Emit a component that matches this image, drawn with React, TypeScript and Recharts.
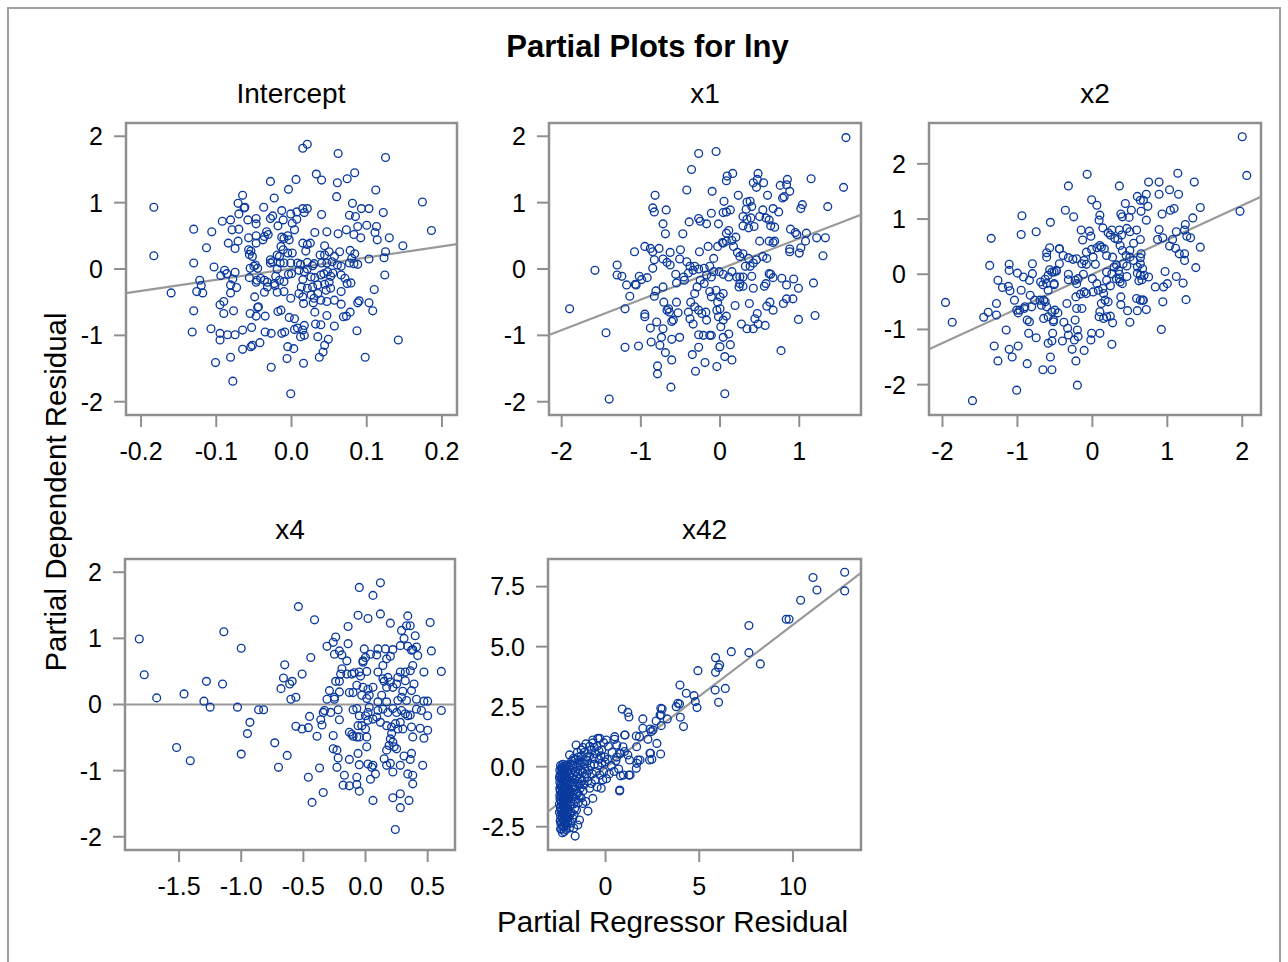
import React from 'react';
import { ScatterChart, Scatter, XAxis, YAxis, ReferenceLine, ReferenceArea } from 'recharts';

// ---------- DATA ----------
const chartTitle = 'Partial Plots for lny';
const panelTitles = ['Intercept', 'x1', 'x2', 'x4', 'x42'];
const xAxisLabel = 'Partial Regressor Residual';
const yAxisLabel = 'Partial Dependent Residual';

const interceptPts: [number, number][] = [
  [0.021,1.88],[0.015,1.82],[0.062,1.74],[0.125,1.68],[0.033,1.43],[0.040,1.34],[0.084,1.45],[0.074,1.36],[0.061,1.30],[0.006,1.35],
  [-0.028,1.32],[-0.004,1.20],[0.112,1.19],[0.060,1.09],[-0.023,1.07],[-0.065,1.11],[-0.071,0.99],[-0.062,0.93],[-0.063,0.92],[0.174,1.01],
  [-0.183,0.93],[0.081,0.99],[0.093,0.91],[0.103,0.91],[0.122,0.85],[0.077,0.81],[0.085,0.79],[0.040,0.82],[-0.037,0.93],[-0.013,0.88],
  [-0.001,0.83],[0.007,0.86],[0.015,0.91],[0.021,0.91],[0.017,0.85],[0.007,0.75],[-0.025,0.80],[-0.028,0.76],[-0.011,0.74],[-0.047,0.76],
  [-0.047,0.68],[-0.058,0.74],[-0.070,0.83],[-0.081,0.74],[-0.092,0.72],[-0.018,0.65],[0.001,0.69],[0.004,0.59],[-0.079,0.59],[-0.070,0.60],
  [-0.130,0.60],[-0.106,0.56],[0.186,0.58],[0.113,0.64],[0.088,0.64],[0.100,0.66],[0.073,0.59],[0.062,0.53],[0.047,0.56],[0.031,0.55],
  [0.083,0.52],[0.092,0.47],[0.111,0.55],[0.114,0.44],[0.130,0.47],[0.148,0.35],[-0.033,0.56],[-0.031,0.52],[-0.036,0.49],[-0.047,0.50],
  [-0.038,0.44],[-0.047,0.39],[-0.057,0.47],[-0.057,0.29],[-0.054,0.27],[-0.071,0.42],[-0.084,0.39],[-0.075,0.31],[-0.113,0.32],[-0.013,0.48],
  [-0.010,0.46],[-0.005,0.50],[-0.003,0.44],[-0.014,0.34],[-0.011,0.29],[-0.019,0.21],[-0.016,0.19],[-0.005,0.24],[0.001,0.24],[0.015,0.39],
  [0.021,0.37],[0.025,0.39],[0.019,0.27],[0.044,0.35],[0.050,0.26],[0.044,0.21],[0.038,0.21],[0.057,0.19],[0.064,0.26],[0.078,0.28],
  [0.080,0.16],[0.084,0.23],[0.077,0.09],[0.088,0.07],[0.083,0.08],[0.103,0.15],[0.125,0.26],[0.123,0.17],[0.124,-0.09],[0.110,-0.31],
  [0.090,-0.48],[0.088,-0.51],[0.103,-0.51],[0.108,-0.63],[0.087,-0.93],[0.098,-1.33],[0.142,-1.07],[-0.052,0.19],[-0.056,0.22],[-0.048,0.06],
  [-0.050,0.04],[-0.045,0.01],[-0.028,0.14],[-0.025,0.11],[-0.028,0.09],[-0.019,0.0],[-0.015,0.09],[-0.010,0.09],[-0.001,0.09],[0.008,0.09],
  [0.012,0.07],[0.021,0.10],[0.028,0.05],[0.030,0.08],[0.040,0.09],[0.047,0.09],[0.054,0.11],[0.061,0.06],[0.066,0.04],[-0.103,0.03],
  [-0.089,-0.02],[-0.086,-0.07],[-0.094,-0.10],[-0.075,-0.05],[-0.055,0.01],[-0.130,0.09],[-0.183,0.20],[-0.160,-0.36],[-0.122,-0.17],[-0.120,-0.25],
  [-0.126,-0.34],[-0.118,-0.36],[-0.078,-0.15],[-0.081,-0.24],[-0.073,-0.28],[-0.081,-0.36],[-0.056,-0.13],[-0.046,-0.17],[-0.047,-0.20],[-0.041,-0.14],
  [-0.036,-0.17],[-0.032,-0.20],[-0.021,-0.11],[-0.023,-0.22],[-0.022,-0.25],[-0.016,-0.17],[-0.010,-0.19],[-0.004,-0.08],[0.000,-0.07],[-0.019,-0.35],
  [-0.010,-0.34],[-0.032,-0.27],[-0.036,-0.35],[0.010,-0.02],[0.017,-0.04],[0.021,0.0],[0.026,-0.12],[0.031,-0.13],[0.039,-0.09],[0.043,-0.07],
  [0.048,-0.04],[0.052,-0.11],[0.015,-0.16],[0.013,-0.27],[0.021,-0.29],[0.028,-0.27],[0.035,-0.24],[0.044,-0.23],[0.050,-0.20],[0.052,-0.29],
  [0.046,-0.32],[0.055,-0.06],[0.066,-0.09],[0.071,-0.14],[0.074,-0.22],[0.079,-0.21],[0.066,-0.34],[0.010,-0.37],[0.015,-0.42],[0.026,-0.39],
  [0.030,-0.44],[0.035,-0.37],[0.039,-0.47],[0.029,-0.51],[-0.001,-0.44],[0.016,-0.52],[0.047,-0.49],[0.057,-0.47],[0.066,-0.53],[-0.049,-0.42],
  [-0.045,-0.58],[-0.044,-0.57],[-0.047,-0.71],[-0.035,-0.71],[-0.055,-0.67],[-0.077,-0.63],[-0.090,-0.67],[-0.095,-0.54],[-0.090,-0.49],[-0.130,-0.63],
  [-0.018,-0.64],[-0.014,-0.62],[-0.003,-0.73],[0.004,-0.75],[0.031,-0.65],[0.047,-0.70],[0.032,-0.83],[0.039,-0.84],[0.057,-0.86],[0.069,-0.72],
  [0.073,-0.71],[0.078,-0.65],[0.017,-0.85],[-0.107,-0.90],[-0.132,-0.95],[-0.095,-0.97],[-0.095,-1.07],[-0.085,-0.99],[-0.075,-0.99],[-0.065,-0.92],
  [-0.053,-0.88],[-0.035,-0.95],[-0.027,-0.97],[-0.013,-0.97],[-0.009,-0.95],[0.004,-0.91],[0.008,-0.89],[0.015,-0.92],[0.012,-1.02],[0.017,-1.00],
  [0.035,-1.02],[0.049,-1.06],[0.044,-1.15],[0.042,-1.25],[0.037,-1.33],[-0.042,-1.11],[-0.052,-1.15],[-0.054,-1.17],[-0.065,-1.21],[-0.005,-1.17],
  [0.003,-1.20],[-0.006,-1.35],[0.016,-1.42],[-0.027,-1.48],[-0.081,-1.33],[-0.101,-1.41],[-0.078,-1.69],[-0.001,-1.88],
];

const x1Pts: [number, number][] = [
  [1.59,1.98],[1.56,1.23],[1.15,1.36],[1.36,0.94],[1.02,0.91],[1.04,0.97],[-0.27,1.74],[-0.05,1.77],[-0.36,1.50],[-0.42,1.19],
  [-0.10,1.17],[-0.82,1.11],[-0.85,0.92],[-0.83,0.86],[-0.68,0.89],[-0.72,0.68],[-0.69,0.53],[-0.47,0.53],[-0.39,0.71],[-0.27,0.76],
  [-0.25,0.72],[-0.17,0.68],[-0.11,0.84],[0.05,1.02],[0.04,0.85],[0.08,0.86],[0.13,0.89],[-0.02,0.68],[0.08,1.33],[0.09,1.40],
  [0.16,1.44],[0.23,1.11],[0.48,1.44],[0.47,1.35],[0.42,1.30],[0.46,1.23],[0.55,1.30],[0.60,1.11],[0.34,1.01],[0.38,1.02],
  [0.33,0.90],[0.40,0.94],[0.29,0.79],[0.34,0.75],[0.39,0.77],[0.36,0.62],[0.43,0.64],[0.29,0.65],[0.54,0.89],[0.50,0.79],
  [0.58,0.77],[0.62,0.74],[0.64,0.65],[0.69,0.63],[0.67,0.91],[0.74,0.86],[0.76,1.26],[0.81,1.09],[0.79,1.07],[0.85,1.35],
  [0.88,1.17],[0.84,1.27],[0.89,0.60],[0.97,0.52],[0.95,0.55],[1.09,0.54],[1.22,0.47],[1.33,0.47],[1.30,0.20],[1.08,0.42],
  [1.00,0.24],[0.88,0.30],[0.88,0.26],[1.02,0.32],[0.50,0.42],[0.62,0.42],[0.67,0.40],[0.69,0.42],[0.54,0.19],[0.59,0.16],
  [0.46,0.14],[0.42,0.09],[0.36,0.16],[0.25,0.19],[0.29,0.23],[0.22,0.25],[0.17,0.34],[0.15,0.43],[0.20,0.48],[0.08,0.54],
  [0.11,0.58],[0.04,0.39],[0.08,0.42],[-0.03,0.34],[0.03,0.40],[-0.08,0.16],[-0.15,0.34],[-0.26,0.26],[-0.50,0.29],[-0.63,0.25],
  [-0.72,0.15],[-0.67,0.10],[-0.63,0.06],[-0.95,0.34],[-0.88,0.31],[-0.85,0.26],[-0.77,0.31],[-0.83,0.14],[-1.08,0.26],[-1.30,0.06],
  [-1.30,-0.09],[-1.24,-0.11],[-1.58,-0.02],[-1.90,-0.60],[-1.02,-0.11],[-0.99,-0.16],[-0.92,-0.13],[-1.06,-0.24],[-0.85,0.01],[-0.72,-0.27],
  [-0.56,-0.08],[-0.55,-0.21],[-0.46,-0.12],[-0.45,-0.17],[-0.40,-0.06],[-0.34,-0.02],[-0.38,0.04],[-0.32,0.04],[-0.27,0.00],[-0.20,0.01],
  [-0.13,0.04],[-0.08,-0.04],[-0.42,0.11],[-0.51,0.15],[-0.17,-0.09],[-0.11,-0.12],[-0.01,-0.04],[0.04,-0.08],[0.11,-0.12],[0.15,-0.04],
  [0.21,-0.12],[0.25,-0.12],[0.29,-0.12],[0.25,-0.22],[0.24,-0.27],[0.29,-0.26],[0.40,-0.11],[0.42,-0.29],[0.32,0.04],[0.38,0.04],
  [0.62,-0.07],[0.64,-0.08],[0.58,-0.22],[0.56,-0.26],[0.67,-0.13],[0.78,-0.14],[0.84,-0.24],[0.93,-0.15],[0.99,-0.29],[1.18,-0.21],
  [1.20,-0.70],[0.99,-0.76],[0.92,-0.45],[0.80,-0.52],[0.84,-0.45],[0.63,-0.50],[0.59,-0.56],[0.67,-0.62],[0.47,-0.67],[0.44,-0.75],
  [0.42,-0.90],[0.48,-0.83],[0.57,-0.85],[0.37,-0.52],[0.34,-0.90],[0.27,-0.83],[0.19,-0.55],[0.77,-1.23],[0.06,-1.88],[0.04,-0.37],
  [0.00,-0.42],[-0.03,-0.50],[-0.11,-0.42],[-0.05,-0.32],[-0.13,-0.34],[-0.20,-0.22],[-0.25,-0.17],[-0.29,-0.27],[-0.32,-0.37],[-0.37,-0.50],
  [-0.40,-0.65],[-0.32,-0.57],[-0.27,-0.62],[-0.23,-0.67],[-0.18,-0.65],[-0.17,-0.77],[-0.04,-0.62],[0.00,-0.60],[0.08,-0.71],[0.04,-0.77],
  [0.01,-0.87],[-0.02,-0.72],[-0.38,-0.75],[-0.34,-0.83],[-0.27,-0.99],[-0.21,-1.00],[-0.13,-1.00],[-0.11,-1.00],[0.04,-1.03],[0.11,-0.98],
  [0.00,-1.17],[0.13,-1.14],[0.06,-1.32],[0.15,-1.37],[-0.04,-1.47],[-0.19,-1.41],[-0.31,-1.54],[-0.35,-1.29],[-0.27,-1.18],[-0.51,-1.03],
  [-0.74,-1.03],[-0.61,-1.06],[-0.76,-1.15],[-0.69,-1.26],[-0.61,-1.37],[-0.72,-0.90],[-0.80,-0.80],[-0.87,-1.10],[-0.88,-0.89],[-0.79,-1.46],
  [-0.79,-1.58],[-0.62,-1.78],[-1.40,-1.96],[-0.95,-0.72],[-0.95,-0.68],[-1.20,-0.60],[-1.14,-0.41],[-1.18,-0.24],[-1.07,-0.23],[-1.44,-0.96],
  [-1.20,-1.18],[-1.03,-1.16],[-0.67,-0.62],[-0.64,-0.65],[-0.59,-0.77],[-0.61,-0.79],[-0.53,-0.66],[-0.55,-0.50],[-0.71,-0.50],[-0.65,-0.60],
  [-0.83,-0.41],[-0.81,-0.33],
];

const x2Pts: [number, number][] = [
  [2.00,2.49],[2.06,1.79],[1.97,1.14],[1.14,1.83],[1.36,1.67],[1.03,1.53],[1.15,1.45],[1.04,1.16],[1.09,1.19],[1.44,1.21],
  [1.34,1.02],[1.24,0.90],[0.89,1.67],[0.75,1.67],[0.89,1.45],[0.36,1.60],[-0.07,1.81],[-0.32,1.60],[-0.36,1.16],[-0.25,1.04],
  [-0.01,1.35],[0.06,1.25],[0.10,1.07],[0.09,0.98],[0.14,0.84],[0.44,1.28],[0.38,1.09],[0.40,1.04],[0.49,1.03],[0.52,1.16],
  [0.65,1.14],[0.60,1.41],[0.64,1.34],[0.68,1.34],[0.72,1.45],[0.74,1.23],[0.72,0.98],[0.93,1.09],[0.89,0.81],[0.87,0.63],
  [0.94,0.66],[1.07,0.63],[1.12,0.77],[1.03,0.51],[1.11,0.47],[1.23,0.80],[1.26,0.69],[1.31,0.66],[1.16,0.37],[1.23,0.37],
  [1.23,0.25],[1.44,0.49],[1.38,0.12],[0.97,0.05],[1.12,-0.04],[1.00,-0.17],[0.95,-0.23],[0.84,-0.23],[0.94,-0.50],[0.92,-1.00],
  [1.21,-0.16],[1.25,-0.46],[0.65,0.37],[0.64,0.30],[0.64,0.19],[0.60,0.13],[0.67,0.10],[0.60,0.02],[0.64,-0.02],[0.69,-0.02],
  [0.75,-0.05],[0.66,-0.10],[0.62,-0.12],[0.55,0.56],[0.64,0.63],[0.59,0.80],[0.46,0.83],[0.50,0.77],[0.39,0.71],[0.36,0.80],
  [0.26,0.80],[0.24,0.71],[0.21,0.75],[0.30,0.65],[0.34,0.63],[0.37,0.52],[0.40,0.43],[0.45,0.34],[0.50,0.43],[0.55,0.25],
  [0.46,0.15],[0.41,0.19],[0.32,0.17],[0.35,0.07],[0.36,0.00],[0.37,-0.14],[0.29,0.13],[0.26,0.01],[0.19,0.04],[0.19,-0.11],
  [0.24,-0.21],[0.14,-0.26],[0.32,-0.08],[0.10,0.52],[0.12,0.49],[0.16,0.46],[0.06,0.48],[-0.01,0.45],[-0.08,0.40],[0.01,0.31],
  [0.19,0.34],[0.27,0.31],[-0.15,0.80],[-0.04,0.78],[-0.02,0.69],[-0.13,0.62],[-0.11,0.25],[-0.21,0.28],[-0.26,0.27],[-0.14,0.19],
  [-0.08,0.18],[0.04,0.18],[-0.32,0.30],[-0.39,0.34],[-0.44,0.46],[-0.57,0.48],[-0.61,0.31],[-0.61,0.39],[-0.48,0.06],[-0.51,0.04],
  [-0.57,0.08],[-0.32,-0.10],[-0.23,-0.11],[-0.19,-0.08],[-0.12,0.00],[-0.21,-0.17],[0.00,-0.08],[0.06,-0.17],[0.08,-0.29],[0.15,-0.35],
  [0.01,-0.32],[-0.08,-0.35],[-0.22,-0.41],[-0.16,-0.36],[-0.11,-0.32],[-0.21,-0.62],[-0.14,-0.62],[0.12,-0.53],[0.17,-0.47],[0.21,-0.50],
  [0.10,-0.68],[0.09,-0.77],[0.19,-0.77],[0.15,-0.80],[0.24,-0.76],[0.27,-0.88],[0.10,-1.07],[0.38,-0.41],[0.38,-0.55],[0.47,-0.66],
  [0.50,-0.87],[0.60,-0.66],[0.64,-0.47],[0.68,-0.47],[0.72,-0.64],[0.26,-1.27],[-0.01,-1.07],[-0.02,-1.19],[-0.11,-1.38],[-0.19,-1.13],
  [-0.20,-1.01],[-0.24,-1.19],[-0.27,-1.36],[-0.22,-1.57],[-0.20,-2.01],[-0.33,-0.98],[-0.38,-0.87],[-0.40,-1.21],[-0.32,-1.10],[-0.53,-1.07],
  [-0.54,-1.21],[-0.59,-1.25],[-0.52,-0.86],[-0.59,-0.77],[-0.56,-1.50],[-0.54,-1.73],[-0.66,-1.73],[-0.46,-0.70],[-0.50,-0.65],[-0.54,-0.68],
  [-0.52,-0.83],[-0.65,-0.80],[-0.61,-0.59],[-0.70,-0.47],[-0.65,-0.47],[-0.63,-0.50],[-0.68,-0.56],[-0.77,-0.47],[-0.83,-0.38],[-0.81,-0.59],
  [-0.90,-0.59],[-0.69,-0.14],[-0.66,-0.19],[-0.61,-0.17],[-0.63,-0.09],[-0.59,-0.02],[-0.54,0.04],[-0.51,-0.17],[-0.48,0.07],[-0.80,0.19],
  [-0.80,0.01],[-0.84,-0.11],[-0.92,-0.05],[-1.00,0.02],[-1.11,0.18],[-1.11,0.07],[-1.10,-0.30],[-1.12,-0.22],[-1.26,-0.11],[-1.20,-0.24],
  [-0.95,-0.29],[-1.04,-0.47],[-0.91,-0.62],[-1.01,-0.65],[-0.99,-0.70],[-0.87,-0.83],[-0.84,-0.86],[-0.85,-1.07],[-0.75,-1.15],[-0.97,-0.65],
  [-1.37,0.16],[-1.35,0.65],[-0.95,0.72],[-0.94,1.06],[-0.75,0.77],[-0.56,0.94],[-0.44,0.46],[-1.28,-0.53],[-1.28,-0.74],[-1.39,-0.69],
  [-1.45,-0.78],[-1.15,-1.01],[-1.11,-1.36],[-1.07,-1.50],[-1.31,-1.30],[-1.26,-1.57],[-0.99,-1.30],[-0.87,-1.62],[-1.01,-2.10],[-1.60,-2.29],
  [-1.96,-0.51],[-1.87,-0.87],[-0.34,-0.53],[-0.23,-0.83],[0.59,-0.44],[0.67,-0.47],[0.50,0.31],[0.46,-0.04],[0.40,-0.17],[0.36,-0.08],
  [-0.32,0.00],[-0.44,0.19],[-0.51,-0.19],[-0.59,-0.29],
];

const x4Pts: [number, number][] = [
  [-1.82,0.99],[-1.78,0.45],[-1.68,0.10],[-1.46,0.16],[-1.52,-0.65],[-1.41,-0.85],[-1.28,0.35],[-1.30,0.05],[-1.25,-0.04],[-1.15,0.31],
  [-1.14,1.10],[-1.00,0.85],[-1.03,-0.04],[-1.00,-0.75],[-0.93,-0.27],[-0.95,-0.44],[-0.86,-0.08],[-0.82,-0.08],[-0.73,-0.58],[-0.70,-0.95],
  [-0.63,-0.77],[-0.68,0.24],[-0.66,0.40],[-0.65,0.60],[-0.61,0.31],[-0.59,0.35],[-0.60,0.08],[-0.56,0.11],[-0.56,-0.33],[-0.51,-0.37],
  [-0.46,-0.35],[-0.45,-0.18],[-0.39,-0.48],[-0.37,-0.96],[-0.46,-1.10],[-0.43,-1.48],[-0.34,-1.33],[-0.54,1.48],[-0.51,0.46],[-0.44,0.71],
  [-0.41,1.28],[-0.36,-0.23],[-0.34,-0.12],[-0.35,-0.31],[-0.33,-0.09],[-0.28,-0.12],[-0.31,0.88],[-0.26,0.94],[-0.24,1.02],[-0.25,0.76],
  [-0.21,0.81],[-0.19,0.75],[-0.15,0.66],[-0.14,1.18],[-0.14,0.92],[-0.29,0.21],[-0.24,0.35],[-0.21,0.35],[-0.21,0.19],[-0.25,0.11],
  [-0.31,0.08],[-0.25,0.08],[-0.22,-0.08],[-0.21,-0.23],[-0.26,-0.67],[-0.23,-0.69],[-0.22,-0.81],[-0.26,-0.47],[-0.23,-0.95],[-0.17,-1.07],
  [-0.13,-0.83],[-0.18,-1.22],[-0.13,-1.23],[-0.07,-1.10],[-0.07,-1.21],[-0.05,-1.31],[-0.13,-0.42],[-0.11,-0.45],[-0.10,-0.48],[-0.07,-0.49],
  [-0.05,-0.49],[-0.06,-0.32],[-0.03,-0.32],[0.00,-0.37],[0.01,-0.49],[0.01,-0.64],[-0.06,-0.74],[-0.05,-0.91],[0.02,-0.90],[0.06,-0.92],
  [0.05,-0.95],[0.08,-1.05],[0.04,-1.13],[0.06,-1.45],[-0.05,1.77],[-0.06,1.35],[0.06,1.65],[0.02,1.30],[0.12,1.84],[0.12,1.37],
  [0.20,1.23],[-0.20,0.46],[-0.19,0.54],[-0.15,0.46],[-0.11,0.46],[-0.09,0.48],[-0.05,0.49],[-0.04,0.43],[0.01,0.50],[-0.02,0.64],
  [-0.02,0.66],[-0.01,0.84],[0.04,0.76],[0.00,0.71],[-0.13,0.18],[-0.10,0.18],[-0.07,0.29],[-0.02,0.26],[0.02,0.23],[0.03,0.14],
  [0.06,0.26],[0.01,0.09],[-0.03,0.14],[-0.10,-0.08],[-0.07,-0.06],[-0.05,-0.17],[0.00,-0.17],[0.02,-0.24],[0.06,-0.22],[0.09,-0.19],
  [0.10,-0.09],[0.10,0.04],[0.13,0.14],[0.03,-0.04],[0.02,-0.12],[0.10,0.84],[0.16,0.84],[0.09,0.75],[0.14,0.59],[0.17,0.69],
  [0.20,0.73],[0.22,0.83],[0.28,0.89],[0.34,0.88],[0.37,0.82],[0.38,0.83],[0.29,1.12],[0.33,1.19],[0.31,1.00],[0.36,1.19],
  [0.40,1.04],[0.34,1.34],[0.41,0.87],[0.42,0.74],[0.52,1.24],[0.53,0.81],[0.61,0.50],[0.47,0.49],[0.10,0.49],[0.14,0.39],
  [0.15,0.35],[0.18,0.41],[0.20,0.34],[0.17,0.26],[0.22,0.26],[0.25,0.31],[0.26,0.41],[0.28,0.49],[0.32,0.49],[0.32,0.36],
  [0.38,0.59],[0.36,0.51],[0.39,0.31],[0.37,0.21],[0.30,0.20],[0.29,0.11],[0.26,0.06],[0.33,0.06],[0.41,0.08],[0.47,0.05],
  [0.50,0.05],[0.61,-0.09],[0.17,0.04],[0.14,-0.07],[0.18,-0.12],[0.22,-0.06],[0.25,-0.12],[0.29,-0.09],[0.32,-0.14],[0.34,-0.17],
  [0.36,-0.16],[0.41,-0.07],[0.45,-0.09],[0.50,-0.17],[0.12,-0.27],[0.17,-0.32],[0.21,-0.34],[0.24,-0.29],[0.28,-0.27],[0.30,-0.37],
  [0.26,-0.37],[0.21,-0.44],[0.20,-0.52],[0.22,-0.57],[0.19,-0.62],[0.17,-0.69],[0.23,-0.64],[0.25,-0.67],[0.37,-0.34],[0.38,-0.49],
  [0.44,-0.36],[0.47,-0.51],[0.50,-0.39],[0.15,-0.82],[0.17,-0.92],[0.20,-0.89],[0.22,-1.02],[0.28,-0.92],[0.31,-0.78],[0.36,-0.83],
  [0.37,-0.74],[0.34,-1.05],[0.38,-1.07],[0.38,-1.20],[0.46,-0.92],[0.22,-1.41],[0.28,-1.35],[0.28,-1.56],[0.35,-1.45],[0.24,-1.89],
];

const x42Pts: [number, number][] = [
  [-2.40,0.05],[-2.32,-0.10],[-2.25,0.02],[-2.15,-0.05],[-2.05,0.08],[-1.95,0.00],[-2.42,-0.35],[-2.35,-0.25],[-2.28,-0.45],[-2.20,-0.30],
  [-2.10,-0.40],[-2.00,-0.22],[-1.92,-0.38],[-2.44,-0.65],[-2.36,-0.75],[-2.30,-0.60],[-2.22,-0.82],[-2.15,-0.68],[-2.05,-0.72],[-1.96,-0.60],
  [-2.42,-1.00],[-2.34,-1.10],[-2.27,-0.95],[-2.20,-1.15],[-2.12,-1.02],[-2.02,-1.08],[-1.94,-0.95],[-2.43,-1.35],[-2.36,-1.45],[-2.29,-1.30],
  [-2.22,-1.50],[-2.14,-1.38],[-2.05,-1.42],[-1.96,-1.30],[-2.41,-1.70],[-2.33,-1.80],[-2.26,-1.65],[-2.18,-1.85],[-2.10,-1.72],[-2.00,-1.78],
  [-2.40,-2.05],[-2.32,-2.15],[-2.24,-2.00],[-2.16,-2.20],[-2.06,-2.08],[-1.98,-2.12],[-2.38,-2.40],[-2.28,-2.48],[-2.18,-2.35],[-2.08,-2.45],
  [-2.30,-2.75],[-2.12,-2.62],[-1.62,-2.89],[-1.48,-2.43],[-1.39,-2.22],[-2.38,-0.50],[-2.26,-1.25],[-2.34,-1.60],[-2.20,-0.15],[-2.10,-0.90],
  [-2.00,-1.55],[-2.25,-2.25],[-2.15,-1.95],[-2.44,-1.20],[-2.44,-0.90],[-2.30,-0.30],[-2.18,-0.55],[-2.08,-1.25],[-2.28,-1.95],[-2.40,-2.60],
  [-2.36,-0.05],[-2.28,0.10],[-2.12,0.05],[-2.44,-0.15],[-2.24,-0.20],[-2.06,-0.15],[-2.40,-0.80],[-2.32,-0.88],[-2.24,-0.65],[-2.14,-0.85],
  [-2.04,-0.95],[-2.38,-1.25],[-2.30,-1.15],[-2.18,-1.28],[-2.10,-1.50],[-2.02,-1.30],[-2.38,-1.85],[-2.30,-1.95],[-2.22,-1.75],[-2.12,-2.05],
  [-2.04,-1.92],[-2.42,-2.25],[-2.34,-2.30],[-2.22,-2.50],[-2.14,-2.40],[-2.02,-2.30],[-2.34,-2.60],[-2.20,-2.70],[-1.92,-2.55],[-1.90,-1.62],
  [-2.46,-0.45],[-2.46,-1.55],[-2.46,-1.90],[-2.32,-0.40],[-2.08,-0.60],[-1.98,-0.80],[-1.93,-1.15],[-1.90,-2.00],[-2.26,-1.40],[-2.16,-1.65],
  [-1.85,0.10],[-1.75,0.05],[-1.65,0.12],[-1.55,0.02],[-1.45,0.15],[-1.35,0.05],[-1.25,0.20],[-1.12,0.12],[-1.92,0.49],[-1.57,0.90],
  [-1.12,0.60],[-1.30,0.45],[-1.45,0.40],[-1.70,0.35],[-1.20,0.80],[-1.05,0.95],[-1.85,-0.25],[-1.72,-0.35],[-1.60,-0.20],[-1.48,-0.30],
  [-1.35,-0.15],[-1.22,-0.25],[-1.10,-0.10],[-1.88,-0.65],[-1.75,-0.75],[-1.62,-0.55],[-1.50,-0.70],[-1.38,-0.50],[-1.25,-0.60],[-1.12,-0.45],
  [-1.86,-1.05],[-1.74,-1.15],[-1.60,-0.95],[-1.48,-1.10],[-1.35,-0.90],[-1.20,-1.00],[-1.85,-1.45],[-1.70,-1.55],[-1.58,-1.35],[-1.45,-1.50],
  [-1.30,-1.30],[-1.21,-1.53],[-1.84,-1.90],[-1.68,-2.00],[-1.55,-1.80],[-1.85,-2.35],[-1.70,-2.55],[-0.94,-1.85],[-1.05,-1.45],[-1.80,0.25],
  [-1.60,0.30],[-1.40,0.25],[-1.50,0.60],[-1.30,0.70],[-1.78,-0.45],[-1.55,-0.40],[-1.40,-0.75],[-1.65,-0.80],[-1.80,-1.25],[-1.55,-1.15],
  [-1.40,-1.20],[-1.65,-1.75],[-1.75,-2.15],[-1.15,-0.75],[-1.00,-0.30],[-1.00,0.40],
  [-0.95,0.25],[-0.85,0.45],[-0.75,0.70],[-0.67,0.99],[-0.55,0.55],[-0.45,0.85],[-0.31,1.18],[-0.35,0.30],[-0.20,0.70],[-0.10,1.00],
  [-0.05,0.40],[0.04,1.11],[-0.90,-0.15],[-0.80,0.05],[-0.70,-0.30],[-0.60,0.10],[-0.50,-0.20],[-0.40,0.05],[-0.30,-0.35],[-0.20,0.15],
  [-0.10,-0.20],[-0.02,0.20],[-0.95,-0.60],[-0.85,-0.90],[-0.68,-1.32],[-0.75,-0.70],[-0.55,-0.55],[-0.23,-0.90],[-0.45,-0.85],[-0.15,-0.55],
  [-0.41,1.18],[-0.68,1.11],[-0.85,0.85],[-0.60,0.80],[-0.25,0.45],[-0.65,0.35],[-0.35,0.65],[0.49,1.25],[1.02,1.32],[0.48,1.14],
  [0.15,0.85],[0.35,0.60],[0.60,0.90],[0.80,0.55],[0.93,0.83],[1.01,0.63],[1.19,0.49],[0.75,0.56],[1.28,0.28],[0.10,0.30],
  [0.30,0.05],[0.55,0.25],[0.70,-0.10],[0.95,-0.35],[1.31,-0.35],[0.20,-0.30],[0.45,-0.20],[0.76,-0.97],[0.75,-1.01],[0.05,-0.50],
  [0.60,0.40],[0.89,2.40],[1.19,2.26],[1.25,2.07],[1.99,1.99],[1.99,1.60],[2.38,1.57],[2.44,1.46],[1.81,1.25],[1.64,1.28],
  [2.26,1.14],[2.74,0.97],[2.94,0.53],[2.40,0.56],[2.35,0.28],[1.73,0.28],[1.67,0.14],[1.64,-0.07],[1.25,-0.35],[0.80,-0.38],
  [2.95,2.43],[2.91,2.15],[3.02,2.40],[2.97,2.15],[3.29,1.99],[2.70,1.90],[2.97,1.71],[2.53,1.53],[1.04,1.32],[1.66,0.83],
  [2.37,0.56],[2.47,0.31],[1.84,0.28],[3.86,2.64],[3.77,2.50],[3.95,2.61],[3.99,2.06],[4.16,1.67],[3.97,3.40],[4.31,3.06],
  [4.72,2.96],[4.79,2.71],[4.88,2.46],[4.93,4.00],[5.87,4.54],[6.09,4.24],[6.03,4.13],[5.87,3.93],[5.85,3.19],[6.39,3.26],
  [6.03,2.68],[6.71,4.79],[7.65,5.88],[7.65,4.75],[8.26,4.28],[9.64,6.14],[9.79,6.14],[10.41,6.93],[11.07,7.88],[11.28,7.36],
  [12.76,8.10],[12.76,7.32],
];

// fit lines (slope, intercept) per panel
const fitSlopes = [1.68, 0.46, 0.623, 0, 0.595];
const fitIntercepts = [0.005, 0, 0, 0, -0.04];

// axis domains and ticks per panel
const xDomains: [number, number][] = [[-0.22, 0.22], [-2.16, 1.78], [-2.18, 2.25], [-1.935, 0.72], [-3.07, 13.63]];
const yDomains: [number, number][] = [[-2.2, 2.2], [-2.2, 2.2], [-2.55, 2.74], [-2.2, 2.2], [-3.47, 8.65]];
const xTicks = [[-0.2, -0.1, 0, 0.1, 0.2], [-2, -1, 0, 1], [-2, -1, 0, 1, 2], [-1.5, -1, -0.5, 0, 0.5], [0, 5, 10]];
const yTicks = [[-2, -1, 0, 1, 2], [-2, -1, 0, 1, 2], [-2, -1, 0, 1, 2], [-2, -1, 0, 1, 2], [-2.5, 0, 2.5, 5, 7.5]];
const xDecimals = [1, 0, 0, 1, 0];
const yDecimals = [0, 0, 0, 0, 1];

const allPts = [interceptPts, x1Pts, x2Pts, x4Pts, x42Pts];

// ---------- LAYOUT ----------
const frames = [
  { left: 125.5, top: 123, w: 331, h: 292 },
  { left: 549, top: 123, w: 312, h: 292 },
  { left: 929, top: 123, w: 332, h: 292 },
  { left: 125, top: 559, w: 330, h: 291 },
  { left: 548, top: 559, w: 313, h: 291 },
];

const FONT = '"Liberation Sans", Arial, sans-serif';
const MARK = '#0b3a9e';
const FRAME = '#8f8f8f';
const FIT = '#999999';
const YW = 100;
const XH = 70;
const MT = 8;
const MR = 8;

const Circle = (props: any) => {
  const { cx, cy } = props;
  if (cx == null || cy == null) return null;
  return <circle cx={cx} cy={cy} r={3.9} fill="none" stroke={MARK} strokeWidth={1.35} />;
};

function Panel({ i }: { i: number }) {
  const f = frames[i];
  const data = allPts[i].map(([x, y]) => ({ x, y }));
  const xd = xDomains[i];
  const yd = yDomains[i];
  const slope = fitSlopes[i];
  const b = fitIntercepts[i];
  const tickStyle = { fill: '#000', fontSize: 25, fontFamily: FONT };
  return (
    <div style={{ position: 'absolute', left: f.left - YW, top: f.top - MT }}>
      <ScatterChart width={YW + f.w + MR} height={MT + f.h + XH} margin={{ top: MT, right: MR, left: 0, bottom: 0 }}>
        <XAxis
          type="number"
          dataKey="x"
          domain={xd}
          allowDataOverflow
          ticks={xTicks[i]}
          interval={0}
          tickFormatter={(v: number) => v.toFixed(xDecimals[i])}
          axisLine={false}
          tickLine={{ stroke: FRAME, strokeWidth: 2 }}
          tickSize={12}
          tickMargin={15}
          height={XH}
          tick={tickStyle}
        />
        <YAxis
          type="number"
          dataKey="y"
          domain={yd}
          allowDataOverflow
          ticks={yTicks[i]}
          interval={0}
          tickFormatter={(v: number) => v.toFixed(yDecimals[i])}
          axisLine={false}
          tickLine={{ stroke: FRAME, strokeWidth: 2 }}
          tickSize={12}
          tickMargin={11}
          width={YW}
          tick={tickStyle}
        />
        <Scatter data={data} shape={Circle} isAnimationActive={false} />
        {slope === 0 ? (
          <ReferenceLine y={b} stroke={FIT} strokeWidth={2.2} />
        ) : (
          <ReferenceLine
            segment={[
              { x: xd[0], y: slope * xd[0] + b },
              { x: xd[1], y: slope * xd[1] + b },
            ]}
            stroke={FIT}
            strokeWidth={2.2}
            ifOverflow="visible"
          />
        )}
        <ReferenceArea x1={xd[0]} x2={xd[1]} y1={yd[0]} y2={yd[1]} fill="none" fillOpacity={0} stroke={FRAME} strokeWidth={2.5} ifOverflow="visible" />
      </ScatterChart>
    </div>
  );
}

export default function App() {
  return (
    <div style={{ position: 'fixed', left: 0, top: 0, width: 1288, height: 962, background: '#fff', overflow: 'hidden' }}>
      <div style={{ position: 'absolute', left: 7, top: 7, width: 1270, height: 1000, border: '2px solid #a0a0a0' }} />
      <svg width={1288} height={962} style={{ position: 'absolute', left: 0, top: 0 }}>
        <text x={647.5} y={57} textAnchor="middle" fontFamily={FONT} fontSize={31} fontWeight="bold" fill="#000">{chartTitle}</text>
        {panelTitles.map((t, i) => (
          <text key={t} x={frames[i].left + frames[i].w / 2} y={frames[i].top - 20} textAnchor="middle" fontFamily={FONT} fontSize={28} fill="#000">{t}</text>
        ))}
        <text x={672.5} y={932} textAnchor="middle" fontFamily={FONT} fontSize={29.5} fill="#000">{xAxisLabel}</text>
        <text transform="translate(66,492) rotate(-90)" textAnchor="middle" fontFamily={FONT} fontSize={29.5} fill="#000">{yAxisLabel}</text>
      </svg>
      {frames.map((_, i) => (
        <Panel key={i} i={i} />
      ))}
    </div>
  );
}
